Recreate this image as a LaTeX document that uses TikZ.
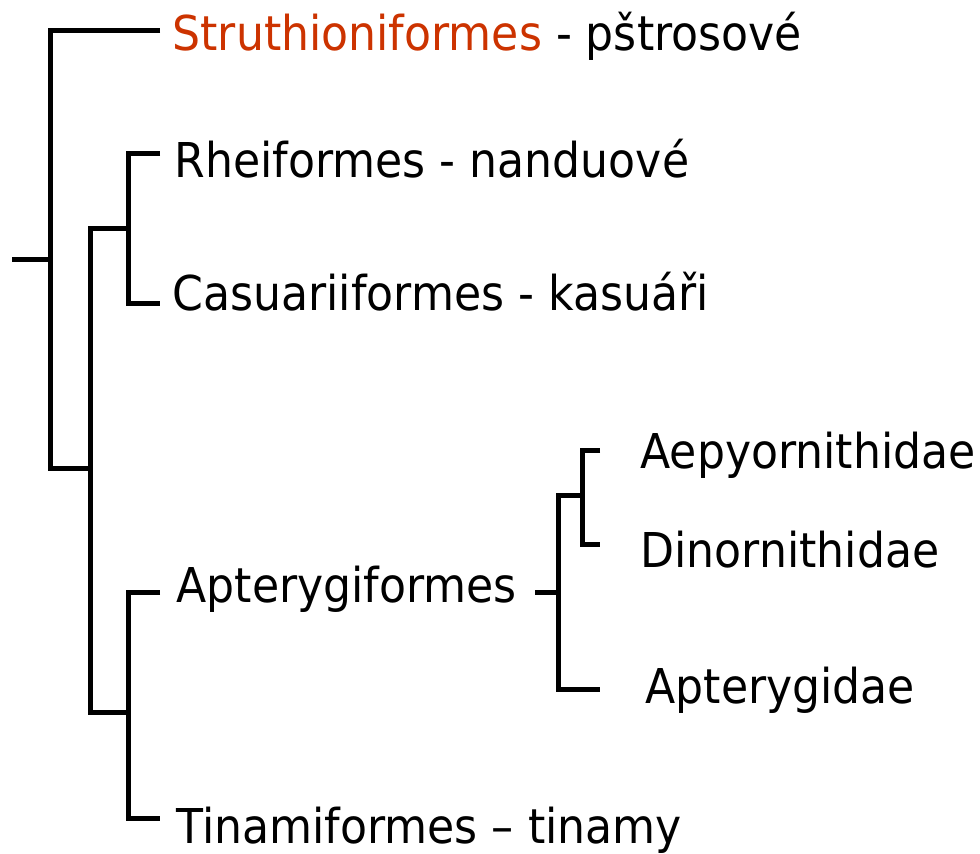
\documentclass[tikz,border=0pt]{standalone}
\usepackage{fontspec}
\setmainfont[FakeStretch=0.92]{DejaVu Sans}
\usetikzlibrary{positioning}
\definecolor{ostrich}{HTML}{CC3300}

\begin{document}
\begin{tikzpicture}[x=1pt,y=-1pt,line width=5pt,
 taxon/.style={anchor=base west,inner sep=0pt,font=\fontsize{48}{56}\selectfont},
 branch/.style={draw,line cap=butt,line join=miter}]
\useasboundingbox (0,0) rectangle (980,854);
% tips and junctions of the tree
\coordinate (root) at (12,259);
\coordinate (jAll) at (50,259);
\coordinate (jB) at (90,468);
\coordinate (jC) at (128,228);
\coordinate (jD) at (128,712);
\coordinate (jE) at (558,592);
\coordinate (jF) at (582,495);
\coordinate (tStru) at (160,30);
\coordinate (tRhei) at (160,153);
\coordinate (tCas) at (160,303);
\coordinate (tAptg) at (160,592);
\coordinate (tTina) at (160,818);
\coordinate (aEnd) at (535,592);
\coordinate (tAepy) at (600,450);
\coordinate (tDino) at (600,544);
\coordinate (tApt) at (600,689);
% labels
\node[taxon](stru)at(170,50){\textcolor{ostrich}{Struthioniformes} - pštrosové};
\node[taxon](rhei)at(172,177){Rheiformes - nanduové};
\node[taxon](cas)at(170,310){Casuariiformes - kasuáři};
\node[taxon](aptg)at(174,602){Apterygiformes};
\node[taxon](tina)at(174,843){Tinamiformes – tinamy};
\node[taxon](aepy)at(638,468){Aepyornithidae};
\node[taxon](dino)at(638,567){Dinornithidae};
\node[taxon](apt)at(643,703){Apterygidae};
% branches
\draw[branch](root)--(jAll);
\draw[branch](tStru)-|(jAll)|-(jB);
\draw[branch](jC)-|(jB)|-(jD);
\draw[branch](tRhei)-|(jC)|-(tCas);
\draw[branch](tAptg)-|(jD)|-(tTina);
\draw[branch](aEnd)--(jE);
\draw[branch](jF)-|(jE)|-(tApt);
\draw[branch](tAepy)-|(jF)|-(tDino);
\end{tikzpicture}
\end{document}
